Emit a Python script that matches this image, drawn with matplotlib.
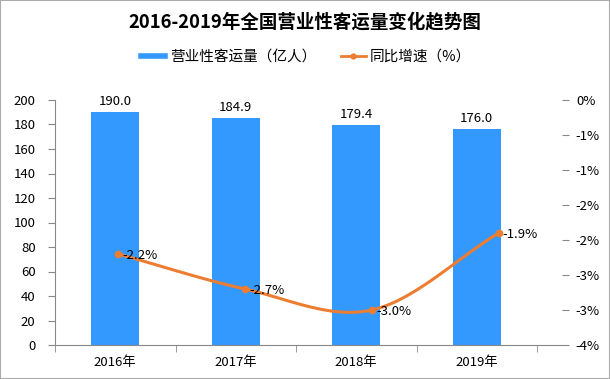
import numpy as np
import matplotlib.pyplot as plt
from matplotlib.patches import Rectangle
from matplotlib.lines import Line2D
from matplotlib.ticker import FuncFormatter

plt.rcParams['font.family'] = ['Noto Sans CJK SC', 'DejaVu Sans']

years = ['2016年', '2017年', '2018年', '2019年']
volume = [190.0, 184.9, 179.4, 176.0]      # 亿人
growth = [-2.2, -2.7, -3.0, -1.9]          # %

bar_color = '#3399FF'
line_color = '#ED7D31'
axis_color = '#888888'


def smooth(xs, ys, n=30):
    # catmull-rom, close to excel's smoothed line
    xs = np.asarray(xs, float)
    ys = np.asarray(ys, float)
    px = np.concatenate([[2 * xs[0] - xs[1]], xs, [2 * xs[-1] - xs[-2]]])
    py = np.concatenate([[2 * ys[0] - ys[1]], ys, [2 * ys[-1] - ys[-2]]])
    ox, oy = [], []
    for i in range(1, len(px) - 2):
        t = np.linspace(0, 1, n)
        for p, out in ((px, ox), (py, oy)):
            p0, p1, p2, p3 = p[i - 1], p[i], p[i + 1], p[i + 2]
            out.extend(0.5 * (2 * p1 + (-p0 + p2) * t
                              + (2 * p0 - 5 * p1 + 4 * p2 - p3) * t ** 2
                              + (-p0 + 3 * p1 - 3 * p2 + p3) * t ** 3))
    return ox, oy


def pct(v, pos):
    if abs(v) < 1e-9:
        return '0%'
    return '-%d%%' % int(abs(v) + 0.5)


fig = plt.figure(figsize=(6.1, 3.79), dpi=100)
rect = [55 / 610, 1 - 345 / 379, 507 / 610, 245 / 379]

# bars: categories only fill part of the plot width (like the original)
ax = fig.add_axes(rect)
x = np.arange(len(years))
ax.bar(x, volume, width=0.4, color=bar_color, zorder=2)
ax.set_xlim(-0.5, -0.5 + 4 * 507 / 482)
ax.set_ylim(0, 200)
ax.set_yticks(np.arange(0, 201, 20))
ax.set_xticks(x)
ax.set_xticklabels(years, fontsize=9.5)
ax.set_xticks(np.arange(-0.5, 4, 1), minor=True)
ax.tick_params(axis='x', which='major', length=0, pad=8)
ax.tick_params(axis='x', which='minor', length=5, color=axis_color)
ax.tick_params(axis='y', length=5, color=axis_color, labelsize=9.5, pad=9)
for s in ['top', 'right']:
    ax.spines[s].set_visible(False)
for s in ['left', 'bottom']:
    ax.spines[s].set_color(axis_color)
for xi, v in zip(x, volume):
    ax.annotate('%.1f' % v, (xi, v), xytext=(0, 3), textcoords='offset points',
                ha='center', va='bottom', fontsize=9.5)

# growth line on its own axes spanning the full width
ax2 = fig.add_axes(rect, frameon=False)
ax2.set_xlim(-0.5, 3.5)
ax2.set_ylim(-3.5, 0)
ax2.set_yticks(np.arange(-3.5, 0.01, 0.5))
ax2.yaxis.set_major_formatter(FuncFormatter(pct))
ax2.yaxis.tick_right()
ax2.tick_params(axis='y', length=5, color=axis_color, labelsize=9.5, pad=5)
ax2.set_xticks([])
ax2.spines['right'].set_visible(True)
ax2.spines['right'].set_color(axis_color)
sx, sy = smooth(x, growth)
ax2.plot(sx, sy, color=line_color, lw=2.2, zorder=3, solid_capstyle='round')
ax2.plot(x, growth, 'o', color=line_color, ms=4.5, zorder=4)
for xi, v in zip(x, growth):
    ax2.annotate('%.1f%%' % v, (xi, v), xytext=(3, -1), textcoords='offset points',
                 ha='left', va='center', fontsize=9.5)

fig.text(0.5, 1 - 22 / 379, '2016-2019年全国营业性客运量变化趋势图',
         ha='center', va='center', fontsize=13.3, fontweight='bold')

handles = [Line2D([0], [0], color=bar_color, lw=4),
           Line2D([0], [0], color=line_color, lw=2, marker='o', ms=3.5)]
fig.legend(handles, ['营业性客运量（亿人）', '同比增速（%）'], loc='center',
           bbox_to_anchor=(306 / 610, 1 - 57 / 379), ncol=2, frameon=False,
           fontsize=10.5, handlelength=1.7, columnspacing=1.7, handletextpad=0.3)

fig.patches.append(Rectangle((0, 0), 1, 1, transform=fig.transFigure,
                             fill=False, edgecolor='#aaaaaa', lw=1.5))

plt.savefig('out.png')
